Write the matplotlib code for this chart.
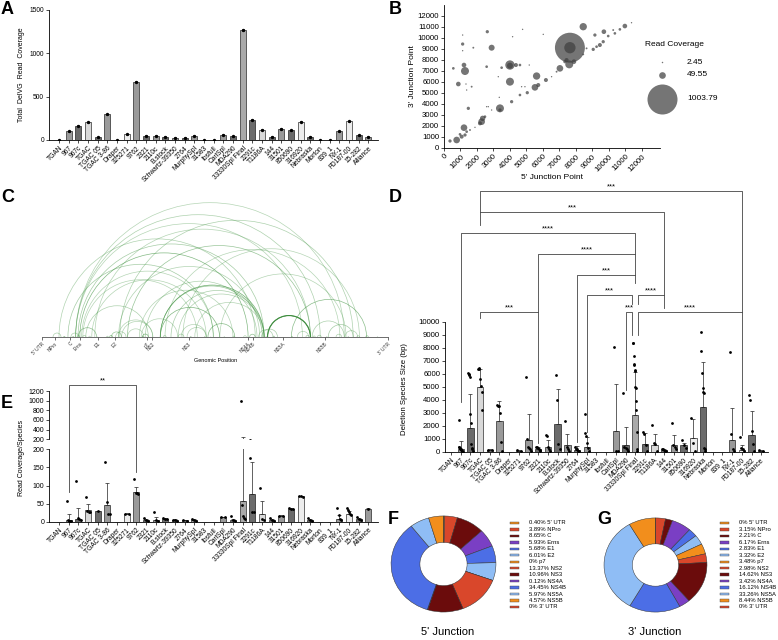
import numpy as np
import matplotlib.pyplot as plt
from matplotlib.patches import Arc, Rectangle

plt.rcParams['font.family'] = ['Liberation Sans', 'DejaVu Sans']
plt.rcParams['axes.linewidth'] = 0.6

W, H = 778, 640

# ---------------- data ----------------
strains = ['TGAN', '967', '967c', 'TGAC', 'TGAC 05', 'TGAC 3-86', 'Draper', '325271',
           '9762', '2321', '2110c', 'B.stock', 'Schwartz-39350', '2764', 'MurphySpl',
           '31583', 'Ibsfull', 'CarlSpl', 'MDA290', '33330Spl Final', '2291c', 'T1186A',
           '144', '31501', '850690', '316920', 'Nebraska', 'Morton', '839_1', 'NY-1',
           'FD187-00', '15-282', 'Alliance']

# A: total DelVG read coverage
total_cov = [0, 100, 165, 205, 30, 295, 5, 65, 675, 50, 50, 40, 25, 25, 50, 3, 3,
             60, 45, 1270, 235, 120, 40, 125, 110, 210, 40, 3, 3, 100, 215, 55, 35]
total_sd = [0, 8, 8, 8, 6, 8, 0, 6, 8, 6, 6, 6, 6, 6, 6, 0, 0,
            6, 6, 10, 8, 8, 6, 8, 8, 8, 6, 0, 0, 8, 8, 6, 6]

# B / C: junction points and read coverage
j5 = [7636, 7636, 8444, 4000, 4000, 4363, 4606, 2889, 1273, 1212, 1131, 1131, 1131, 566,
      869, 1333, 1374, 1677, 1475, 2626, 1778, 2586, 3495, 3293, 4000, 4161, 4767, 6020,
      5171, 5616, 3394, 3394, 3353, 2586, 2687, 4101, 7030, 7596, 7878, 7434, 9151, 9696,
      10262, 10969, 11373, 768, 364, 1071, 1212, 1374, 1576, 1879, 2283, 2343, 2485, 2182,
      2889, 4606, 5050, 5515, 5717, 6181, 6525, 6828, 9050, 9252, 9454, 9656, 9959, 10363,
      10666, 8444, 7333, 8646, 4707, 4909, 970, 1273]
j3 = [9090, 9090, 10993, 7520, 7460, 7520, 7520, 9090, 6976, 7520, 9422, 8818, 10238, 7218,
      5798, 5798, 5255, 5557, 3594, 10540, 9090, 7369, 7278, 6463, 6010, 10087, 10751, 10298,
      7520, 6523, 3594, 3443, 4590, 3745, 3745, 4198, 7218, 7580, 7822, 7973, 10238, 10540,
      10691, 11053, 11355, 725, 634, 1027, 1842, 1480, 1631, 1872, 2386, 2688, 2839, 2235,
      3443, 4802, 5013, 5496, 5708, 6161, 6463, 6916, 8939, 9181, 9332, 9634, 10147, 10389,
      10751, 8486, 7822, 9030, 5557, 5557, 1238, 1178]
jcov = [1000, 143, 60, 97, 40, 18, 8, 40, 71, 24, 12, 2, 2, 8, 24, 2, 2, 4, 12, 12, 4, 8, 8,
        2, 71, 2, 1, 2, 2, 60, 71, 12, 2, 2, 2, 12, 49, 71, 24, 18, 12, 24, 4, 24, 2, 49, 12,
        18, 49, 8, 4, 2, 49, 32, 8, 18, 2, 8, 12, 49, 18, 18, 2, 4, 12, 8, 18, 12, 8, 8, 8,
        4, 12, 4, 2, 2, 8, 12]
legend_cov = [2.45, 49.55, 1003.79]

genes = ["5' UTR", 'NPro', 'C', 'Erns', 'E1', 'E2', 'p7', 'NS2', 'NS3', 'NS4A', 'NS4B',
         'NS5A', 'NS5B', "3' UTR"]
gene_pos = [0, 430, 940, 1280, 1890, 2465, 3550, 3720, 4970, 6970, 7140, 8160, 9580, 11720]

# D: deletion species size
del_mean = [0, 250, 1850, 5030, 150, 2400, 0, 100, 960, 250, 420, 2170, 500, 180, 420, 0, 0,
            1640, 570, 2870, 640, 560, 130, 560, 500, 1100, 3440, 0, 0, 950, 180, 1330, 100]
del_sd = [0, 600, 2600, 1370, 50, 1550, 0, 50, 1990, 150, 530, 2680, 900, 250, 730, 0, 0,
          3610, 1330, 3300, 850, 840, 100, 740, 200, 1400, 3460, 0, 0, 2450, 370, 1820, 50]
del_pts = [[], [2450, 400, 350, 300, 250, 200, 150, 100, 80, 50, 30],
           [6100, 6000, 5900, 5800, 2900, 2250, 600, 300, 200, 100],
           [6400, 6400, 6450, 5650, 5050, 4600, 3200], [150, 120],
           [3600, 3550, 3500, 3000, 800, 50], [], [120, 80],
           [5800, 1000, 350, 300, 200, 100], [400, 350, 300, 200, 150, 100],
           [1300, 1250, 400, 200, 100], [5950, 4000, 600, 200], [2400, 400, 200, 100],
           [400, 250, 200, 100, 50], [2900, 1450, 1200, 700, 300, 100], [], [],
           [8050, 100, 80], [4500, 400, 300, 200, 100],
           [8400, 8350, 7400, 6800, 6700, 6300, 6200, 5000, 4900, 3900, 3200, 1500, 200, 100],
           [1500, 1400, 500, 100], [2050, 700, 600, 100], [250, 200, 150, 100, 50],
           [2200, 500, 400, 200], [950, 500, 300], [2650, 700, 100],
           [9200, 7800, 6100, 4900, 4600, 4500, 300, 200, 100], [], [],
           [7700, 1400, 200, 100], [1150, 300, 200, 100], [4400, 4000, 1600, 600, 100],
           [150, 100]]

# E: read coverage per species
rc_mean = [0, 4, 8, 33, 29, 47, 0, 22, 82, 5, 5, 8, 5, 4, 5, 0, 0,
           13, 4, 57, 77, 20, 5, 17, 36, 70, 5, 0, 0, 8, 20, 7, 36]
rc_sd = [0, 16, 30, 17, 1, 61, 0, 1, 15, 3, 9, 2, 2, 1, 2, 0, 0,
         1, 4, 183, 88, 36, 3, 1, 1, 1, 3, 0, 0, 10, 10, 4, 1]
rc_pts = [[], [58, 5, 3, 2, 1], [112, 10, 8, 5], [68, 30, 28, 27], [30], [165, 55, 20, 20],
          [], [22, 22], [118, 80, 78, 77], [10, 5, 3], [27, 5, 3], [10, 8, 7], [6, 4, 3],
          [5, 3], [7, 4, 2], [], [], [13, 12], [17, 5, 2], [1000, 45, 15, 10, 8],
          [177, 28, 28], [93, 8, 5], [10, 5, 3], [17, 17], [37, 36, 35], [71, 70, 69],
          [9, 4, 2], [], [], [38, 18, 8, 5], [37, 33, 28, 20, 18], [12, 7, 5], [36]]

# F / G: junction location by genomic region (%)
five_pct = [0.40, 3.89, 8.65, 5.93, 5.68, 6.01, 0, 13.37, 10.96, 0.12, 34.45, 5.97, 4.57, 0]
three_pct = [0, 3.15, 2.21, 6.17, 2.83, 3.32, 3.48, 2.98, 14.62, 3.42, 16.12, 33.26, 8.44, 0]

# ---------------- styles ----------------
L, M, D, Wt = '#d9d9d9', '#9a9a9a', '#6b6b6b', '#ededed'
shade = [L, M, D, L, D, M, Wt, Wt, M, D, M, D, M, D, M, L, L, M, D, '#a9a9a9', D, L, D,
         M, D, Wt, D, L, L, M, Wt, D, M]
pie_cycle = ['#f28e1c', '#d9472b', '#6b0c0c', '#7a3fc4', '#4c6ee6', '#8fbdf5']
pie_cols = [pie_cycle[i % 6] for i in range(len(genes))]

fig = plt.figure(figsize=(W / 100, H / 100), dpi=100)


def px_axes(l, t, r, b):
    ax = fig.add_axes([l / W, 1 - b / H, (r - l) / W, (b - t) / H])
    ax.patch.set_visible(False)
    return ax


def clean(ax, size):
    for s in ['top', 'right']:
        ax.spines[s].set_visible(False)
    ax.tick_params(labelsize=size, length=2, width=0.5, pad=1.5)


def strain_ticks(ax, size):
    ax.set_xticks(np.arange(len(strains)))
    ax.set_xticklabels(strains, rotation=45, ha='right', rotation_mode='anchor', fontsize=size)


def bar_dots(ax, means, sds, pts, width):
    x = np.arange(len(strains))
    ax.bar(x, means, width=width, color=shade, edgecolor='black', linewidth=0.4, zorder=2)
    ax.errorbar(x, means, yerr=[np.zeros(len(sds)), sds], fmt='none', ecolor='#222',
                elinewidth=0.5, capsize=1.2, capthick=0.5, zorder=3)
    for i, p in enumerate(pts):
        if len(p) == 0:
            continue
        off = np.linspace(-0.22, 0.22, len(p)) if len(p) > 1 else np.zeros(1)
        ax.scatter(i + off, p, s=4, color='black', linewidths=0, zorder=4)


# ---- A ----
axA = px_axes(49, 10, 378, 140)
xA = np.arange(len(strains))
axA.bar(xA, total_cov, width=0.62, color=shade, edgecolor='black', linewidth=0.4)
axA.errorbar(xA, total_cov, yerr=total_sd, fmt='o', ms=1.4, color='black',
             elinewidth=0.5, capsize=1.0, capthick=0.5)
axA.set_xlim(-1.04, 33.0)
axA.set_ylim(0, 1500)
axA.set_yticks([0, 500, 1000, 1500])
clean(axA, 4.8)
strain_ticks(axA, 4.8)
axA.set_ylabel('Total  DelVG  Read  Coverage', fontsize=5, labelpad=3)

# ---- B ----
axB = px_axes(444, 5, 660, 148)
axB.scatter(j5, j3, s=np.maximum(np.array(jcov) * 0.465, 1), color='#404040', alpha=0.72,
            linewidths=0)
axB.set_xlim(0, 13100)
axB.set_ylim(0, 12960)
axB.set_xticks(np.arange(0, 12001, 1000))
axB.set_yticks(np.arange(0, 12001, 1000))
clean(axB, 5.6)
axB.set_xticklabels(np.arange(0, 12001, 1000), rotation=45, ha='right', rotation_mode='anchor')
axB.set_xlabel("5' Junction Point", fontsize=6, labelpad=1)
axB.set_ylabel("3' Junction Point", fontsize=6, labelpad=1)

# ---- C ----
axC = px_axes(42.3, 200, 388, 337)
axC.set_xlim(0, 11720)
axC.set_ylim(0, 4644)
for s, e, c in zip(j5, j3, jcov):
    if c >= 500:
        col, a, lw = '#2f7f2f', 1.0, 0.8
    else:
        col, a, lw = '#4a994a', 0.4 + 0.4 * min(c / 100, 1), 0.5
    axC.add_patch(Arc(((s + e) / 2, 0), abs(e - s), abs(e - s), theta1=0, theta2=180,
                      color=col, alpha=a, lw=lw))
for s in ['top', 'right', 'left']:
    axC.spines[s].set_visible(False)
axC.spines['bottom'].set_color('#555')
axC.set_yticks([])
axC.set_xticks(gene_pos)
axC.set_xticklabels(genes, rotation=45, ha='right', rotation_mode='anchor', fontsize=3.5)
axC.tick_params(axis='x', length=2, width=0.5, pad=1, colors='#333')
axC.set_xlabel('Genomic Position', fontsize=4, labelpad=2)

# ---- D ----
axD = px_axes(445, 185, 768, 452)
bar_dots(axD, del_mean, del_sd, del_pts, 0.66)
axD.set_xlim(-0.62, 32.7)
axD.set_ylim(0, 20530)
axD.set_yticks(np.arange(0, 10001, 1000))
axD.spines['left'].set_bounds(0, 10000)
clean(axD, 5.6)
strain_ticks(axD, 4.8)
axD.set_ylabel('Deletion Species Size (bp)', fontsize=5.6)
axD.yaxis.set_label_coords(-0.115, 0.235)
brackets = [(3, 30, 20070, 18460, 10770, '***'),
            (3, 22, 18460, 17460, 12070, '***'),
            (1, 19, 16840, 3850, 15230, '****'),
            (9, 19, 15230, 10770, 13610, '****'),
            (13, 19, 13610, 800, 13000, '***'),
            (14, 18.7, 12070, 1500, 11400, '***'),
            (19.3, 22, 12070, 11400, 11070, '****'),
            (18, 18.7, 10770, 4800, 9000, '***'),
            (19.3, 30, 10770, 9000, 1300, '****'),
            (3, 9, 10770, 10300, 700, '***')]
for x1, x2, y, b1, b2, lab in brackets:
    axD.plot([x1, x1, x2, x2], [b1, y, y, b2], color='#444', lw=0.6, clip_on=False)
    axD.text((x1 + x2) / 2, y + 60, lab, ha='center', va='bottom', fontsize=5.5)

# ---- E (broken axis) ----
axE = px_axes(49, 449.3, 378, 521.7)
axEu = px_axes(49, 391, 378, 439.3)
for ax in (axE, axEu):
    bar_dots(ax, rc_mean, rc_sd, rc_pts, 0.62)
    ax.set_xlim(-1.04, 33.0)
axE.set_ylim(0, 200)
axE.set_yticks([0, 50, 100, 150, 200])
clean(axE, 5)
strain_ticks(axE, 4.8)
axEu.set_ylim(200, 1200)
axEu.set_yticks(np.arange(200, 1201, 200))
clean(axEu, 5)
axEu.spines['bottom'].set_visible(False)
axEu.set_xticks([])
axE.plot([1, 1, 8, 8], [82, 377, 377, 137], color='#444', lw=0.6, clip_on=False)
axE.text(4.5, 379, '**', ha='center', va='bottom', fontsize=5.5)
fig.text(22 / W, 1 - 458 / H, 'Read Coverage/Species', rotation=90, fontsize=5,
         ha='center', va='center')

# ---- F / G ----
for (l, t, r, b), pct, title, tx in [((390, 515, 497, 613), five_pct, "5' Junction", 448),
                                     ((603, 517, 708, 613), three_pct, "3' Junction", 655)]:
    axp = px_axes(l, t, r, b)
    axp.pie(pct, colors=pie_cols, startangle=90, counterclock=False,
            wedgeprops=dict(width=0.55, edgecolor='#333', linewidth=0.35))
    axp.set_aspect('auto')
    axp.set_xlim(-1.02, 1.02)
    axp.set_ylim(-1.02, 1.02)
    fig.text(tx / W, 1 - 632 / H, title, fontsize=8, ha='center', va='center')

# ---- overlay: legends and panel letters ----
ov = fig.add_axes([0, 0, 1, 1])
ov.set_xlim(0, W)
ov.set_ylim(H, 0)
ov.axis('off')

ov.text(645, 45, 'Read Coverage', fontsize=6, va='center')
for yy, c in zip([62, 75, 99], legend_cov):
    ov.scatter(662, yy, s=max(c * 0.465, 1), color='#404040', alpha=0.72, linewidths=0)
    ov.text(687, yy, f'{c:.2f}', fontsize=6, va='center')

for px0, pct in [(510, five_pct), (720, three_pct)]:
    for k, (g, v, col) in enumerate(zip(genes, pct, pie_cols)):
        yy = 523 + k * 6.46
        ov.add_patch(Rectangle((px0, yy - 1.2), 9, 2.4, facecolor=col, edgecolor='#444',
                               lw=0.3))
        vs = '0%' if v == 0 else f'{v:.2f}%'
        ov.text(px0 + 19, yy, f'{vs} {g}', fontsize=4.2, va='center')

for lab, x, y in [('A', 1, 9), ('B', 389, 9), ('C', 1, 198), ('D', 389, 197),
                  ('E', 1, 403), ('F', 388, 519), ('G', 597, 519)]:
    ov.text(x, y, lab, fontsize=13, fontweight='bold', va='center', ha='left')

fig.savefig('out.png', dpi=100)
